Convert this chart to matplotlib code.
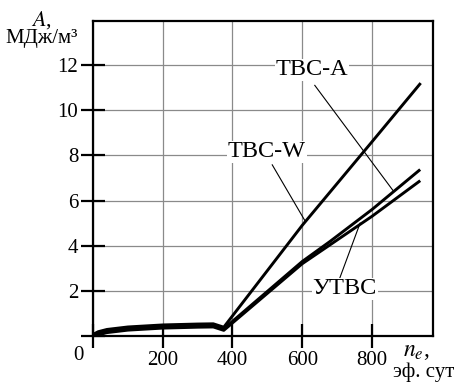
import numpy as np
import matplotlib
matplotlib.use("Agg")
import matplotlib.pyplot as plt

plt.rcParams['font.family'] = ['Liberation Serif', 'DejaVu Serif']
plt.rcParams['mathtext.fontset'] = 'stix'

# readings from the picture
n_start = [0, 15, 40, 100, 200, 300, 345, 375]
a_start = [0.0, 0.12, 0.22, 0.33, 0.42, 0.46, 0.47, 0.32]

n_w = [600, 800, 937]
a_w = [4.9, 8.6, 11.15]

n_a = [600, 679, 800, 935]
a_a = [3.3, 4.18, 5.6, 7.33]

n_u = [600, 800, 935]
a_u = [3.2, 5.3, 6.84]

x_ticks = [0, 200, 400, 600, 800]
y_ticks = [0, 2, 4, 6, 8, 10, 12]

fig = plt.figure(figsize=(4.55, 3.83), dpi=100)
ax = fig.add_axes([93 / 455, 1 - 336 / 383, 340 / 455, 315 / 383])

offs = {'w': 0.07, 'a': 0.0, 'u': -0.07}
for key, nn, aa in [('w', n_w, a_w), ('a', n_a, a_a), ('u', n_u, a_u)]:
    x = np.array(n_start + nn)
    y = np.array(a_start + aa)
    y[:len(n_start)] += offs[key]
    ax.plot(x, y, color='black', lw=2.1, solid_joinstyle='round', zorder=3)

ax.set_xlim(0, 975)
ax.set_ylim(0, 13.95)
ax.set_xticks(x_ticks)
ax.set_xticklabels([''] + [str(v) for v in x_ticks[1:]])
ax.set_yticks(y_ticks)
ax.set_yticklabels([''] + [str(v) for v in y_ticks[1:]])
ax.tick_params(direction='inout', length=17, width=1.6, labelsize=15, pad=2)
ax.grid(True, color='#8a8a8a', lw=0.9)
for sp in ax.spines.values():
    sp.set_linewidth(1.6)

# labels and leader lines
ax.text(628, 11.78, 'ТВС-А', fontsize=17.5, ha='center', va='center',
        bbox=dict(facecolor='white', edgecolor='none', pad=0.5))
ax.plot([636, 860], [11.1, 6.45], color='black', lw=0.8)
ax.text(499, 8.15, 'ТВС-W', fontsize=17.5, ha='center', va='center',
        bbox=dict(facecolor='white', edgecolor='none', pad=0.5))
ax.plot([514, 608], [7.58, 5.1], color='black', lw=0.8)
ax.text(722, 2.09, 'УТВС', fontsize=17.5, ha='center', va='center',
        bbox=dict(facecolor='white', edgecolor='none', pad=0.5))
ax.plot([708, 766], [2.58, 5.0], color='black', lw=0.8)

fig.text(78 / 455, 1 - 356 / 383, '0', fontsize=15, ha='center', va='center')
fig.text(41 / 455, 1 - 20 / 383, '$A$,', fontsize=16, ha='center', va='center')
fig.text(42 / 455, 1 - 39 / 383, 'МДж/м³', fontsize=15, ha='center', va='center')
fig.text(416 / 455, 1 - 352 / 383, '$n_e$,', fontsize=17, ha='center', va='center')
fig.text(424 / 455, 1 - 372 / 383, 'эф. сут', fontsize=15, ha='center', va='center')

fig.savefig('out.png', dpi=100, facecolor='white')
